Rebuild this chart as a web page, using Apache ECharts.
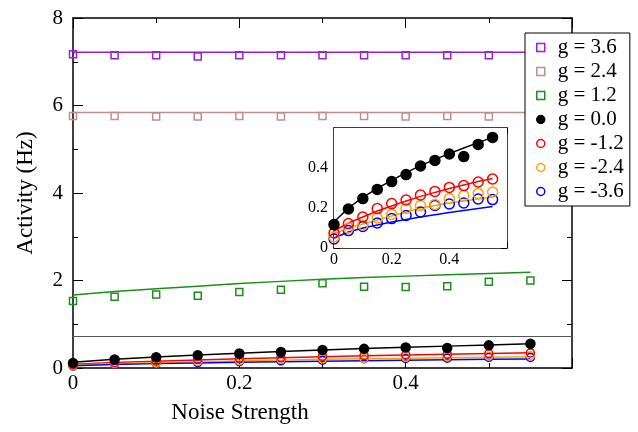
<!DOCTYPE html>
<html>
<head>
<meta charset="utf-8">
<script src="https://cdn.jsdelivr.net/npm/echarts@6/dist/echarts.min.js"></script>
<style>
  html, body { margin: 0; padding: 0; background: #fff; }
  #chart { width: 638px; height: 432px; }
</style>
</head>
<body>
<div id="chart"></div>
<script>
// noise strength (x) for every series
var noise = [0, 0.05, 0.1, 0.15, 0.2, 0.25, 0.3, 0.35, 0.4, 0.45, 0.5, 0.55];

// simulated points (markers)
var pts36 = [7.17, 7.15, 7.15, 7.12, 7.15, 7.15, 7.15, 7.15, 7.15, 7.15, 7.15, 7.15];
var pts24 = [5.76, 5.76, 5.75, 5.75, 5.76, 5.75, 5.76, 5.76, 5.75, 5.76, 5.75, 5.76];
var pts12 = [1.53, 1.63, 1.68, 1.65, 1.74, 1.79, 1.94, 1.86, 1.85, 1.87, 1.97, 2.0];
var pts00 = [0.117, 0.195, 0.247, 0.293, 0.332, 0.367, 0.41, 0.438, 0.47, 0.457, 0.518, 0.553];
var ptsM12 = [0.075, 0.122, 0.155, 0.197, 0.222, 0.24, 0.265, 0.283, 0.303, 0.312, 0.33, 0.345];
var ptsM24 = [0.055, 0.1, 0.115, 0.15, 0.168, 0.198, 0.212, 0.218, 0.247, 0.262, 0.273, 0.28];
var ptsM36 = [0.045, 0.087, 0.108, 0.125, 0.147, 0.163, 0.18, 0.213, 0.22, 0.225, 0.245, 0.242];

// theory curves (lines)
var fit36 = [7.22, 7.22, 7.22, 7.22, 7.22, 7.22, 7.22, 7.22, 7.22, 7.22, 7.22, 7.22];
var fit24 = [5.84, 5.84, 5.84, 5.84, 5.84, 5.84, 5.84, 5.84, 5.84, 5.84, 5.84, 5.84];
var fit12 = [1.67, 1.75, 1.81, 1.87, 1.93, 1.98, 2.03, 2.07, 2.10, 2.13, 2.16, 2.19];
var fit00 = [0.13, 0.2, 0.253, 0.298, 0.338, 0.377, 0.412, 0.443, 0.472, 0.5, 0.527, 0.553];
var fitM12 = [0.085, 0.125, 0.155, 0.185, 0.21, 0.235, 0.258, 0.278, 0.297, 0.315, 0.332, 0.348];
var fitM24 = [0.07, 0.1, 0.12, 0.14, 0.16, 0.18, 0.2, 0.212, 0.225, 0.235, 0.245, 0.255];
var fitM36 = [0.05, 0.08, 0.1, 0.115, 0.13, 0.143, 0.155, 0.166, 0.177, 0.188, 0.198, 0.208];

var refLevel = 0.72; // horizontal line in main panel

var names = ['g = 3.6', 'g = 2.4', 'g = 1.2', 'g = 0.0', 'g = -1.2', 'g = -2.4', 'g = -3.6'];
var colors = ['#9a1fd6', '#bf8f8f', '#1a8f1a', '#000000', '#ff0000', '#ffa500', '#0000ff'];
var symbols = ['rect', 'rect', 'rect', 'circle', 'circle', 'circle', 'circle'];
var filled = [false, false, false, true, false, false, false];

var pts = [pts36, pts24, pts12, pts00, ptsM12, ptsM24, ptsM36];
var fits = [fit36, fit24, fit12, fit00, fitM12, fitM24, fitM36];

var serif = 'Liberation Serif';

function pairs(arr) {
  return noise.map(function (x, i) { return [x, arr[i]]; });
}

function axisX(grid, pos, labels, tickLen, fontSize, margin) {
  return {
    type: 'value', gridIndex: grid, position: pos, min: 0, max: 0.6, interval: 0.2,
    axisLine: { onZero: false, lineStyle: { color: '#000', width: 1.5 } },
    axisTick: { inside: true, length: tickLen, lineStyle: { color: '#000', width: 1 } },
    minorTick: { show: true, splitNumber: 2, length: tickLen / 2, lineStyle: { color: '#000', width: 1 } },
    splitLine: { show: false },
    axisLabel: {
      show: labels, showMaxLabel: false, margin: margin,
      color: '#000', fontFamily: serif, fontSize: fontSize,
      formatter: function (v) { return v === 0 ? '0' : v.toFixed(1); }
    }
  };
}

function axisY(grid, pos, labels, max, interval, tickLen, fontSize, margin, showMax) {
  return {
    type: 'value', gridIndex: grid, position: pos, min: 0, max: max, interval: interval,
    axisLine: { onZero: false, lineStyle: { color: '#000', width: 1.5 } },
    axisTick: { inside: true, length: tickLen, lineStyle: { color: '#000', width: 1 } },
    minorTick: { show: true, splitNumber: 2, length: tickLen / 2, lineStyle: { color: '#000', width: 1 } },
    splitLine: { show: false },
    axisLabel: {
      show: labels, showMaxLabel: showMax, margin: margin,
      color: '#000', fontFamily: serif, fontSize: fontSize,
      formatter: function (v) { return v === 0 ? '0' : (interval < 1 ? v.toFixed(1) : String(v)); }
    }
  };
}

var series = [];

// reference line
series.push({
  type: 'line', xAxisIndex: 0, yAxisIndex: 0, silent: true,
  data: [[0, refLevel], [0.6, refLevel]], symbol: 'none',
  lineStyle: { color: '#555', width: 1 }, z: 1
});

// main panel
for (var i = 0; i < 7; i++) {
  series.push({
    type: 'line', xAxisIndex: 0, yAxisIndex: 0, data: pairs(fits[i]),
    symbol: 'none', smooth: false, lineStyle: { color: colors[i], width: 1.5 }, z: 2
  });
}
for (var i = 6; i >= 0; i--) {
  series.push({
    name: names[i], type: 'scatter', xAxisIndex: 0, yAxisIndex: 0, data: pairs(pts[i]),
    symbol: symbols[i], symbolSize: symbols[i] === 'rect' ? 7 : (filled[i] ? 9 : 8),
    itemStyle: {
      color: filled[i] ? colors[i] : 'rgba(255,255,255,0)',
      borderColor: colors[i], borderWidth: 1.5, opacity: 1
    },
    z: 3
  });
}

// inset (g <= 0)
for (var i = 3; i < 7; i++) {
  series.push({
    type: 'line', xAxisIndex: 2, yAxisIndex: 2, data: pairs(fits[i]),
    symbol: 'none', lineStyle: { color: colors[i], width: 1.5 }, z: 5
  });
}
for (var i = 6; i >= 3; i--) {
  series.push({
    name: names[i], type: 'scatter', xAxisIndex: 2, yAxisIndex: 2, data: pairs(pts[i]),
    symbol: 'circle', symbolSize: filled[i] ? 10 : 10,
    itemStyle: {
      color: filled[i] ? colors[i] : 'rgba(255,255,255,0)',
      borderColor: colors[i], borderWidth: 1.5, opacity: 1
    },
    z: 6
  });
}

var legendData = names.map(function (n, i) {
  return {
    name: n,
    icon: symbols[i],
    itemStyle: {
      color: filled[i] ? colors[i] : '#fff',
      borderColor: colors[i], borderWidth: 1.5, opacity: 1
    }
  };
});

var chart = echarts.init(document.getElementById('chart'));
var option = {
  animation: false,
  backgroundColor: '#fff',
  grid: [
    { left: 73, top: 18, width: 499, height: 350 },
    { left: 334, top: 128, width: 173, height: 120, show: true, backgroundColor: '#fff', borderWidth: 0, z: 4 }
  ],
  xAxis: [
    axisX(0, 'bottom', true, 10, 21, 5),
    axisX(0, 'top', false, 10, 21, 5),
    axisX(1, 'bottom', true, 6, 16, 4),
    axisX(1, 'top', false, 6, 16, 4)
  ],
  yAxis: [
    Object.assign(axisY(0, 'left', true, 8, 2, 10, 21, 10, true), {
      name: 'Activity (Hz)', nameLocation: 'middle', nameGap: 36,
      nameTextStyle: { fontFamily: serif, fontSize: 23, color: '#000' }
    }),
    axisY(0, 'right', false, 8, 2, 10, 21, 10, true),
    axisY(1, 'left', true, 0.6, 0.2, 6, 16, 6, false),
    axisY(1, 'right', false, 0.6, 0.2, 6, 16, 6, false)
  ],
  legend: {
    data: legendData,
    orient: 'vertical',
    left: 525, top: 33,
    itemWidth: 8, itemHeight: 8, itemGap: 3,
    padding: [4, 6, 4, 11],
    backgroundColor: '#fff',
    borderColor: '#000', borderWidth: 1, borderRadius: 0,
    textStyle: { fontFamily: serif, fontSize: 21, lineHeight: 21, color: '#000', padding: [0, 0, 0, 8] },
    selectedMode: false,
    z: 10
  },
  graphic: [{
    type: 'text', x: 240, y: 413,
    style: { text: 'Noise Strength', fontFamily: serif, fontSize: 23, fill: '#000', align: 'center', verticalAlign: 'middle' }
  }],
  series: series
};
chart.setOption(option);
</script>
</body>
</html>
